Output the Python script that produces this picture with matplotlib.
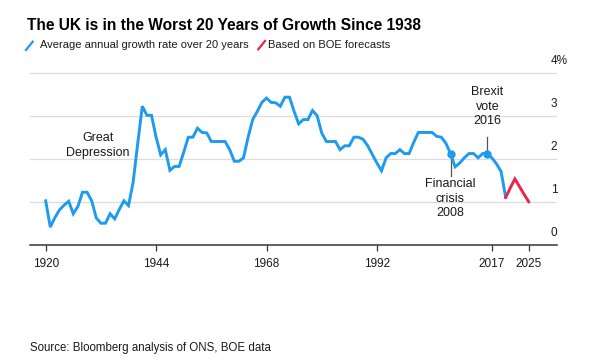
import matplotlib.pyplot as plt
from matplotlib.lines import Line2D

plt.rcParams['font.family'] = ['Liberation Sans', 'DejaVu Sans']

# Average annual growth rate over 20 years (%)
years_hist = list(range(1920, 2021))
growth_hist = [
    1.02, 0.41, 0.63, 0.81, 0.92, 1.01, 0.72, 0.89, 1.22, 1.22,  # 1920s
    1.02, 0.62, 0.50, 0.50, 0.72, 0.60, 0.82, 1.02, 0.91, 1.45,  # 1930s
    2.35, 3.22, 3.01, 3.01, 2.50, 2.09, 2.21, 1.73, 1.82, 1.82,  # 1940s
    2.15, 2.50, 2.50, 2.71, 2.61, 2.60, 2.40, 2.40, 2.40, 2.40,  # 1950s
    2.21, 1.94, 1.94, 2.02, 2.50, 2.91, 3.10, 3.31, 3.41, 3.31,  # 1960s
    3.30, 3.22, 3.43, 3.43, 3.10, 2.81, 2.91, 2.91, 3.12, 3.00,  # 1970s
    2.60, 2.40, 2.40, 2.40, 2.21, 2.30, 2.30, 2.50, 2.50, 2.45,  # 1980s
    2.30, 2.10, 1.90, 1.72, 2.02, 2.12, 2.12, 2.21, 2.12, 2.12,  # 1990s
    2.38, 2.61, 2.61, 2.61, 2.61, 2.52, 2.50, 2.36, 2.12, 1.81,  # 2000s
    1.90, 2.02, 2.12, 2.12, 2.02, 2.12, 2.12, 2.02, 1.88, 1.70,  # 2010s
    1.10,
]

# Based on BOE forecasts
years_fcst = [2020, 2021, 2022, 2023, 2024, 2025]
growth_fcst = [1.10, 1.32, 1.53, 1.35, 1.17, 1.00]

event_years = [2008, 2016]
xtick_years = [1920, 1944, 1968, 1992, 2017, 2025]
ytick_vals = [0, 1, 2, 3, 4]
ytick_labels = ['0', '1', '2', '3', '4%']

blue = '#1E9BEF'
red = '#E8254B'
ink = '#1a1a1a'

W, H = 601, 364
fig = plt.figure(figsize=(W / 100, H / 100), dpi=100)

# axes box in pixels: left 30, right 557, baseline at y=244.7, 43 px per 1%
ymax = 4.02
ax_l, ax_r, ax_b = 30, 557, 244.7
ax_h = 43 * ymax
ax = fig.add_axes([ax_l / W, 1 - ax_b / H, (ax_r - ax_l) / W, ax_h / H])
ax.set_xlim(1920 - 15.7 / 4.6, 1920 + (ax_r - 45.7) / 4.6)
ax.set_ylim(0, ymax)

for v in ytick_vals[1:]:
    ax.axhline(v, color='#dcdcdc', lw=0.9, zorder=1)

ax.plot(years_hist, growth_hist, color=blue, lw=2.1, solid_joinstyle='miter', zorder=3)
ax.plot(years_fcst, growth_fcst, color=red, lw=2.1, solid_joinstyle='miter', zorder=3)

ev_vals = [growth_hist[years_hist.index(y)] for y in event_years]
ax.plot(event_years, ev_vals, 'o', color=blue, ms=5, zorder=4)

# annotation leaders
ax.plot([2008, 2008], [ev_vals[0], 1.59], color='#555555', lw=0.9, zorder=2)
ax.plot([2016, 2016], [ev_vals[1] + 0.03, 2.51], color='#555555', lw=0.9, zorder=2)

ax.text(2008, 1.54, 'Financial\ncrisis\n2008', ha='center', va='top',
        fontsize=9, color=ink, linespacing=1.25)
ax.text(2016, 2.74, 'Brexit\nvote\n2016', ha='center', va='bottom',
        fontsize=9, color=ink, linespacing=1.25)
ax.text(1931.3, 2.0, 'Great\nDepression', ha='center', va='bottom',
        fontsize=9, color=ink, linespacing=1.25)

for spine in ['top', 'right', 'left']:
    ax.spines[spine].set_visible(False)
ax.spines['bottom'].set_color('#333333')
ax.spines['bottom'].set_linewidth(1.1)

ax.set_xticks(xtick_years)
ax.set_xticklabels([str(y) for y in xtick_years])
ax.tick_params(axis='x', length=4.5, width=0.9, color='#333333', pad=5,
               labelsize=8.5, labelcolor=ink)
ax.set_yticks([])

for v, lbl in zip(ytick_vals, ytick_labels):
    ax.annotate(lbl, xy=(1, v), xycoords=('axes fraction', 'data'),
                xytext=(-4.5, 4), textcoords='offset points',
                ha='left', va='bottom', fontsize=8.5, color=ink,
                annotation_clip=False)

# title, legend, source
fig.text(27 / W, 1 - 26 / H, 'The UK is in the Worst 20 Years of Growth Since 1938',
         fontsize=11.2, fontweight='bold', color='#000000', va='center', ha='left')

fig.add_artist(Line2D([26 / W, 32.7 / W], [1 - 50 / H, 1 - 41.7 / H], color=blue, lw=1.6))
fig.text(40 / W, 1 - 45.5 / H, 'Average annual growth rate over 20 years',
         fontsize=8, color=ink, va='center', ha='left')
fig.add_artist(Line2D([258.3 / W, 265 / W], [1 - 49.3 / H, 1 - 41 / H], color=red, lw=1.6))
fig.text(268 / W, 1 - 45.5 / H, 'Based on BOE forecasts',
         fontsize=8, color=ink, va='center', ha='left')

fig.text(30 / W, 1 - 347.7 / H, 'Source: Bloomberg analysis of ONS, BOE data',
         fontsize=8.3, color=ink, va='center', ha='left')

fig.savefig('out.png', dpi=100, facecolor='white')
